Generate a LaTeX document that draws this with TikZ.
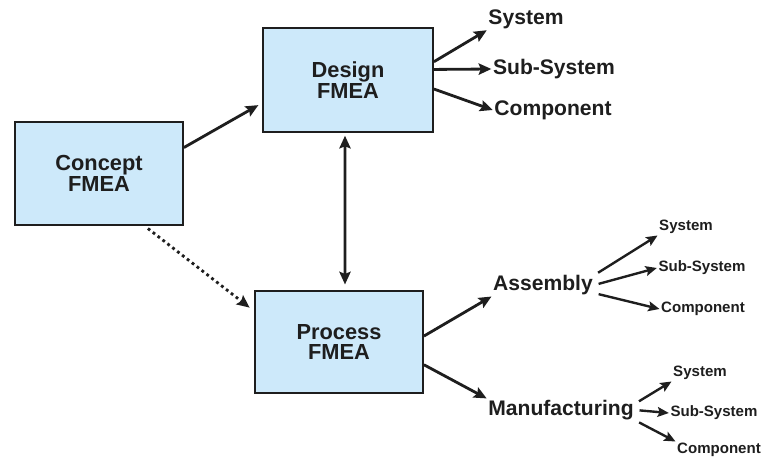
\documentclass[tikz,border=0pt]{standalone}
\usepackage{fontspec}
\setmainfont{Liberation Sans}
\usetikzlibrary{arrows.meta}
\definecolor{boxblue}{RGB}{205,233,250}
\definecolor{inkgray}{RGB}{30,30,30}

\begin{document}
\begin{tikzpicture}[
  x=0.025cm, y=-0.025cm,
  font=\bfseries\fontsize{15}{15}\selectfont, text=inkgray,
  fmea/.style={draw=inkgray, fill=boxblue, line width=1.3pt, align=center,
               inner sep=0pt, minimum width=4.2cm, minimum height=2.55cm,
               font=\bfseries\fontsize{15.5}{14.5}\selectfont},
  lbl/.style={inner sep=1pt},
  sublbl/.style={inner sep=1pt, font=\bfseries\fontsize{10.7}{12}\selectfont},
  rel/.style={-{Stealth[length=9pt, width=8pt, inset=1.5pt]}, line width=2pt, draw=inkgray},
  relsm/.style={rel, -{Stealth[length=8pt, width=7pt, inset=1.5pt]}, line width=1.7pt, shorten <=3pt},
  twoway/.style={rel, {Stealth[length=9pt, width=8pt, inset=1.5pt]}-{Stealth[length=9pt, width=8pt, inset=1.5pt]},
                 shorten <=2pt, shorten >=4pt},
  loose/.style={rel, dash pattern=on 2pt off 2.4pt, shorten <=3pt, shorten >=4pt}
]
\useasboundingbox (0,0) rectangle (764,458);

\node[fmea, minimum height=2.575cm] (concept) at (99,173.5) {Concept\\FMEA};
\node[fmea, minimum width=4.25cm, minimum height=2.6cm] (design) at (348,80) {Design\\FMEA};
\node[fmea] (process) at (339,342) {Process\\FMEA};

\node[lbl] (dsys)  at (526,19)  {System};
\node[lbl] (dsub)  at (554,69)  {Sub-System};
\node[lbl] (dcomp) at (553,110) {Component};

\node[lbl] (asm)  at (543,285) {Assembly};
\node[lbl] (manu) at (561,410) {Manufacturing};

\node[sublbl] (asys)  at (686,227) {System};
\node[sublbl] (asub)  at (702,268) {Sub-System};
\node[sublbl] (acomp) at (703,309) {Component};
\node[sublbl] (msys)  at (700,373) {System};
\node[sublbl] (msub)  at (714,413) {Sub-System};
\node[sublbl] (mcomp) at (719,450) {Component};

\draw[rel, shorten >=3pt] (concept.17) -- (design.195);
\draw[twoway] ([xshift=-0.075cm]design.south) -- ([xshift=0.15cm]process.north);
\draw[loose] (concept.-49) -- (process.160);

\draw[rel] (design.12) -- (dsys.south west);
\draw[rel] (design.7)  -- (dsub.west);
\draw[rel] (design.-6) -- (dcomp.west);

\draw[rel] (process.4)   -- (asm.south west);
\draw[rel] (process.-15) -- (manu.north west);

\draw[relsm] (asm.11)   -- (asys.south west);
\draw[relsm] (asm.east) -- (asub.west);
\draw[relsm] (asm.-9)   -- (acomp.west);

\draw[relsm] (manu.5)    -- (msys.south west);
\draw[relsm] (manu.east) -- (msub.west);
\draw[relsm] (manu.-8)   -- (mcomp.north west);
\end{tikzpicture}
\end{document}
